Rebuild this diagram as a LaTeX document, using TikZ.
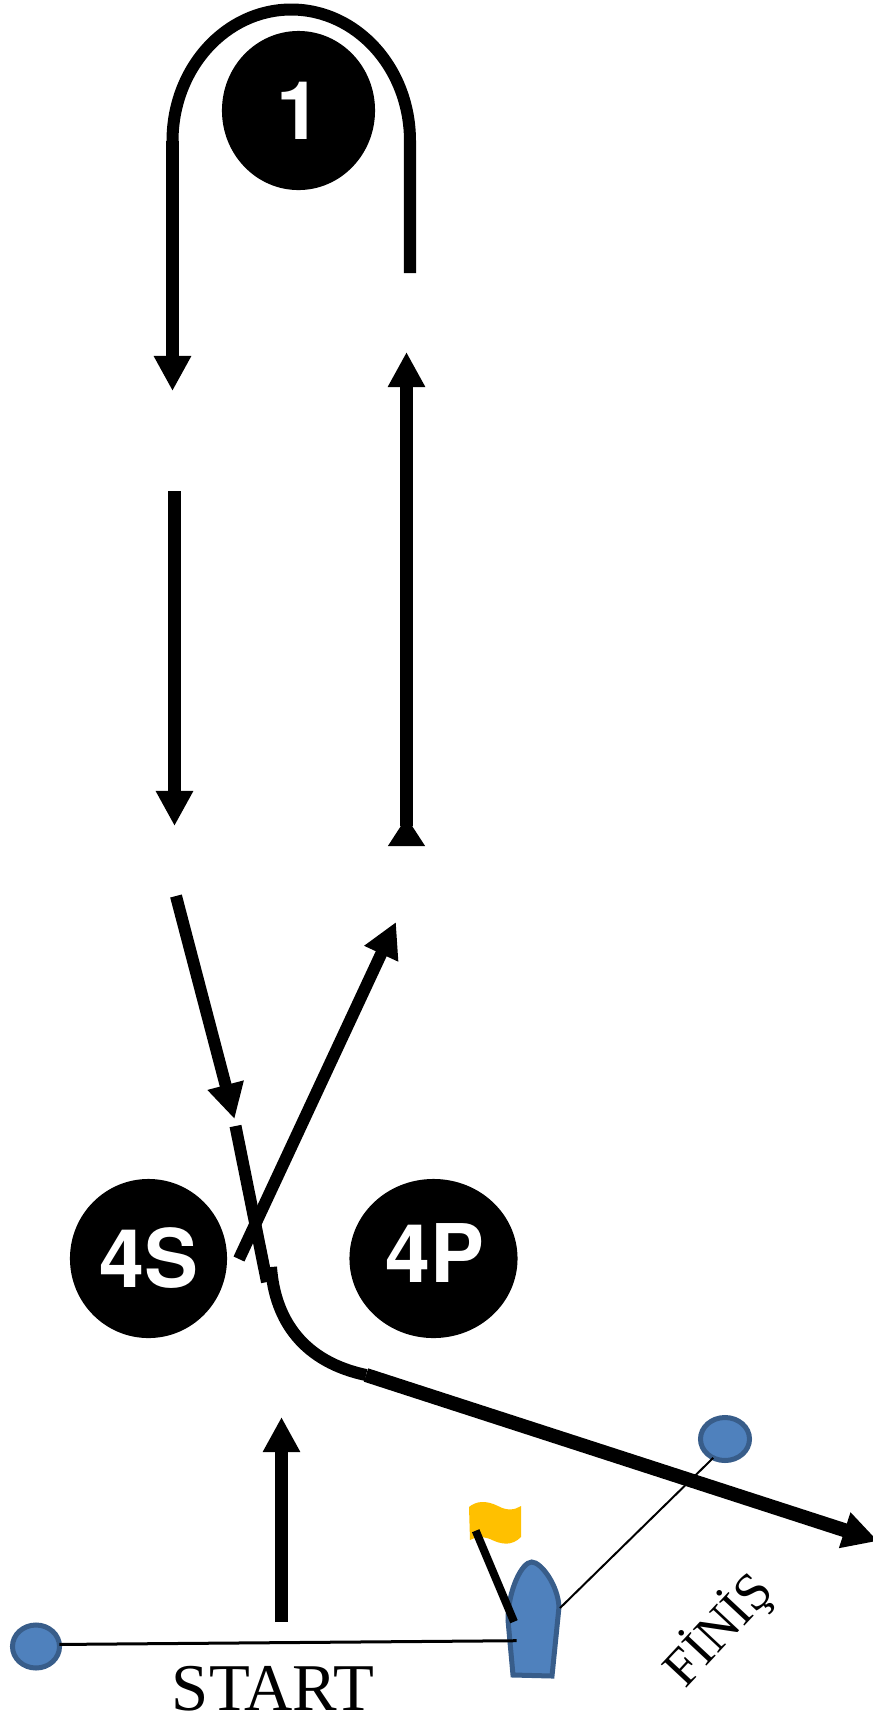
\documentclass[tikz,border=0pt]{standalone}
\usepackage{fontspec}
\setmainfont{Liberation Serif}
\newfontfamily\marksans{TeX Gyre Heros}
\usetikzlibrary{arrows.meta,shapes.geometric}
\definecolor{markblue}{HTML}{4F81BD}
\definecolor{markedge}{HTML}{385D8A}
\definecolor{flagyellow}{HTML}{FFC000}
\tikzset{
    track/.style={line width=0.12cm},
    trackarrow/.style={track,-{Triangle[length=0.35cm,width=0.35cm]}},
    buoy/.style={ellipse,fill=black,text=white,inner sep=0pt,outer sep=0pt},
    buoytext/.style={text=white,font=\marksans\bfseries\fontsize{23}{23}\selectfont},
    pin/.style={draw=markedge,fill=markblue,line width=0.05cm},
    pinmark/.style={pin,ellipse,inner sep=0pt,outer sep=0pt}
}

\begin{document}
\begin{tikzpicture}[x=0.01cm,y=-0.01cm]
    \useasboundingbox (0,0) rectangle (872,1720);

    \node[buoy,buoytext,minimum width=1.53cm,minimum height=1.59cm] (one) at (298.5,110.5) {1};
    \node[buoy,minimum width=1.57cm,minimum height=1.59cm] (fourS) at (148.5,1258.5) {};
    \node[buoy,minimum width=1.68cm,minimum height=1.59cm] (fourP) at (433.5,1258.5) {};
    \node[buoytext] (fourStext) at (148.5,1258.5) {4S};
    \node[buoytext] (fourPtext) at (435,1252.5) {4P};

    % way to the first mark
    \coordinate (a1) at (281.5,1622);
    \coordinate (a2) at (281.5,1417);
    \draw[trackarrow,line width=0.13cm] (a1) -- (a2);

    \coordinate (b1) at (239,1259);
    \coordinate (b2) at (396,922);
    \draw[trackarrow] (b1) -- (b2);

    \coordinate (c1) at (406.5,846);
    \coordinate (c2) at (406.5,352);
    \draw[trackarrow,line width=0.13cm,{Triangle[reversed,length=0.29cm,width=0.35cm]}-{Triangle[length=0.35cm,width=0.35cm]}] (c1) -- (c2);

    \coordinate (d1) at (410,273);
    \coordinate (d2) at (410,141);
    \coordinate (d3) at (172.5,141);
    \coordinate (d4) at (172.5,391);
    \draw[track] (d1) -- (d2) arc[start angle=0,end angle=-180,x radius=118.75,y radius=131.5];
    \draw[trackarrow] (d3) -- (d4);

    % way back
    \coordinate (e1) at (174.5,491);
    \coordinate (e2) at (174.5,826);
    \draw[trackarrow] (e1) -- (e2);

    \coordinate (f1) at (176,896);
    \coordinate (f2) at (234.5,1119);
    \draw[trackarrow] (f1) -- (f2);

    \coordinate (g1) at (235.5,1126);
    \coordinate (g2) at (267,1282);
    \draw[track] (g1) -- (g2);

    \coordinate (h1) at (271,1267);
    \coordinate (h2) at (366,1375);
    \coordinate (h3) at (878,1541);
    \draw[track] (h1) .. controls (275,1322) and (305,1362) .. (h2);
    \draw[trackarrow,line width=0.14cm] (h2) -- (h3);

    % start and finish lines
    \node[pinmark,minimum width=0.47cm,minimum height=0.43cm] (startpin) at (36,1646.5) {};
    \node[pinmark,minimum width=0.49cm,minimum height=0.43cm] (finishpin) at (725,1439) {};

    \fill[flagyellow] (469,1507) .. controls (476,1501) and (486,1500) .. (498,1506)
        .. controls (507,1511) and (515,1510) .. (521,1506) -- (521,1537)
        .. controls (512,1546) and (502,1545) .. (490,1539)
        .. controls (482,1536) and (475,1537) .. (470,1540) -- cycle;
    \draw[pin] (531.7,1562) .. controls (541,1562) and (558,1585) .. (559,1607)
        -- (552,1676) -- (513,1675) -- (508,1620)
        .. controls (508,1590) and (522,1562) .. (531.7,1562) -- cycle;
    \coordinate (startend) at (516.7,1640.7);
    \coordinate (finishend) at (560,1608);
    \coordinate (pole1) at (475.7,1530.7);
    \coordinate (pole2) at (514,1621.7);
    \draw[line width=0.08cm] (pole1) -- (pole2);
    \draw[line width=0.03cm] (startpin.5) -- (startend);
    \draw[line width=0.02cm] (finishpin.238) -- (finishend);

    \node[font=\fontsize{19}{19}\selectfont] (start) at (273,1689) {START};
    \node[font=\fontsize{15}{15}\selectfont,rotate=47] (finish) at (719,1630) {FİNİŞ};
\end{tikzpicture}
\end{document}
